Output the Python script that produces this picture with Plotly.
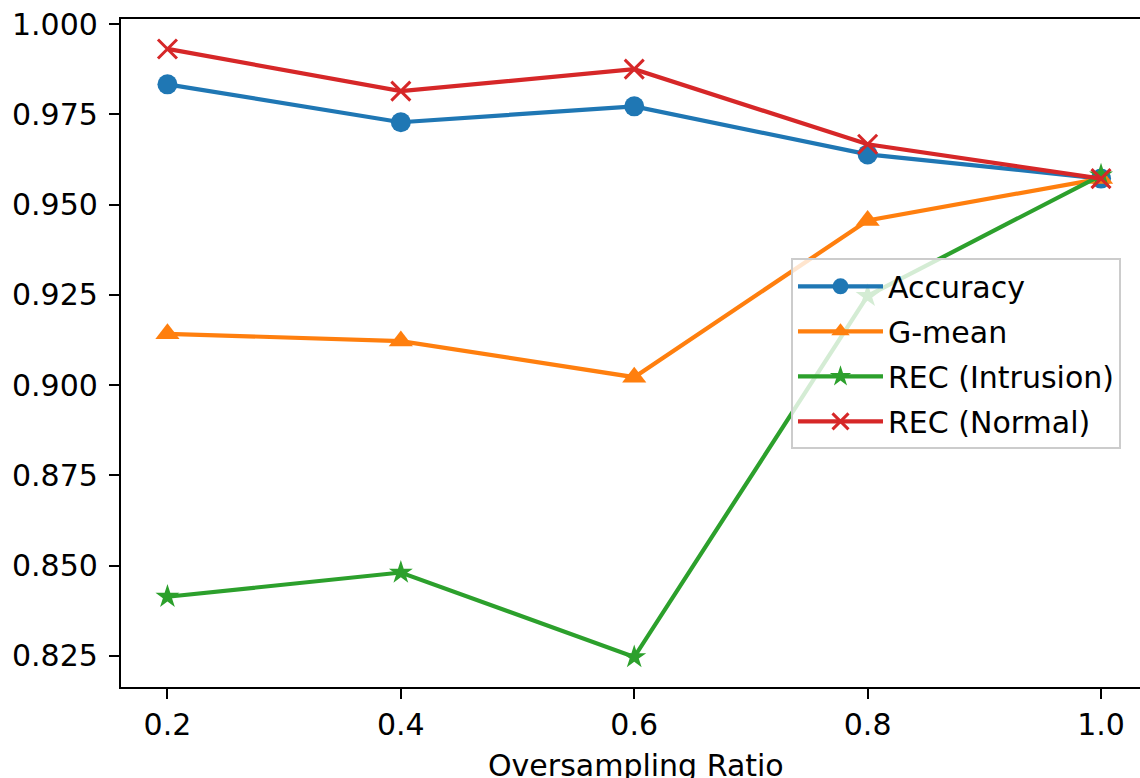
import plotly.graph_objects as go

ratios = [0.2, 0.4, 0.6, 0.8, 1.0]
accuracy = [0.9833, 0.9728, 0.9772, 0.9639, 0.9572]
g_mean = [0.9142, 0.9122, 0.9022, 0.9456, 0.9572]
rec_intrusion = [0.8414, 0.8481, 0.8247, 0.9247, 0.9581]
rec_normal = [0.9931, 0.9814, 0.9875, 0.9667, 0.9572]

y_ticks = [0.825, 0.850, 0.875, 0.900, 0.925, 0.950, 0.975, 1.000]
x_ticks = [0.2, 0.4, 0.6, 0.8, 1.0]
x_title = "Oversampling Ratio"

FONT = "DejaVu Sans"
FS = 30
LW = 4.2

fig = go.Figure()
fig.add_trace(go.Scatter(x=ratios, y=accuracy, name="Accuracy", mode="lines+markers",
                         legendgroup="a",
                         line=dict(color="#1f77b4", width=LW),
                         marker=dict(symbol="circle", size=20, color="#1f77b4")))
fig.add_trace(go.Scatter(x=ratios, y=g_mean, name="G-mean", mode="lines+markers",
                         legendgroup="b",
                         line=dict(color="#ff7f0e", width=LW),
                         marker=dict(symbol="triangle-up", size=21, color="#ff7f0e")))
fig.add_trace(go.Scatter(x=ratios, y=rec_intrusion, name="REC (Intrusion)", mode="lines+markers",
                         legendgroup="c",
                         line=dict(color="#2ca02c", width=LW),
                         marker=dict(symbol="star", size=18, color="#2ca02c")))
fig.add_trace(go.Scatter(x=ratios, y=rec_normal, name="REC (Normal)", mode="lines+markers",
                         legendgroup="d",
                         line=dict(color="#d62728", width=LW),
                         marker=dict(symbol="x-thin", size=19, color="#d62728",
                                     line=dict(color="#d62728", width=3))))

fig.update_layout(
    width=1140, height=778,
    margin=dict(l=121, r=0, t=19, b=91),
    paper_bgcolor="white", plot_bgcolor="white",
    font=dict(family=FONT, size=FS, color="black"),
    showlegend=True,
    legend=dict(x=0.6575, y=0.6417, xanchor="left", yanchor="top",
                bgcolor="rgba(255,255,255,0.8)", bordercolor="#cccccc", borderwidth=2,
                font=dict(family=FONT, size=FS, color="black"),
                traceorder="grouped", tracegroupgap=3, itemwidth=85),
    xaxis=dict(range=[0.1602, 1.0334], tickvals=x_ticks, ticktext=["0.2", "0.4", "0.6", "0.8", "1.0"],
               showgrid=False, zeroline=False, showline=True, linecolor="black", linewidth=2.2,
               mirror=True, ticks="outside", ticklen=10, tickwidth=2.2, tickcolor="black",
               ticklabelstandoff=0,
               automargin=False),
    yaxis=dict(range=[0.8164, 1.00139], tickvals=y_ticks,
               ticktext=[f"{v:.3f}" for v in y_ticks],
               showgrid=False, zeroline=False, showline=True, linecolor="black", linewidth=2.2,
               mirror=False, ticks="outside", ticklen=10, tickwidth=2.2, tickcolor="black",
               ticklabelstandoff=5,
               automargin=False),
    annotations=[dict(text=x_title, xref="paper", yref="paper", x=0.5054, y=-0.0885,
                      xanchor="center", yanchor="top", showarrow=False,
                      font=dict(family=FONT, size=FS, color="black"))],
)

fig.write_html("out.html", config={"displayModeBar": False},
               post_script="document.body.style.margin='0';")
